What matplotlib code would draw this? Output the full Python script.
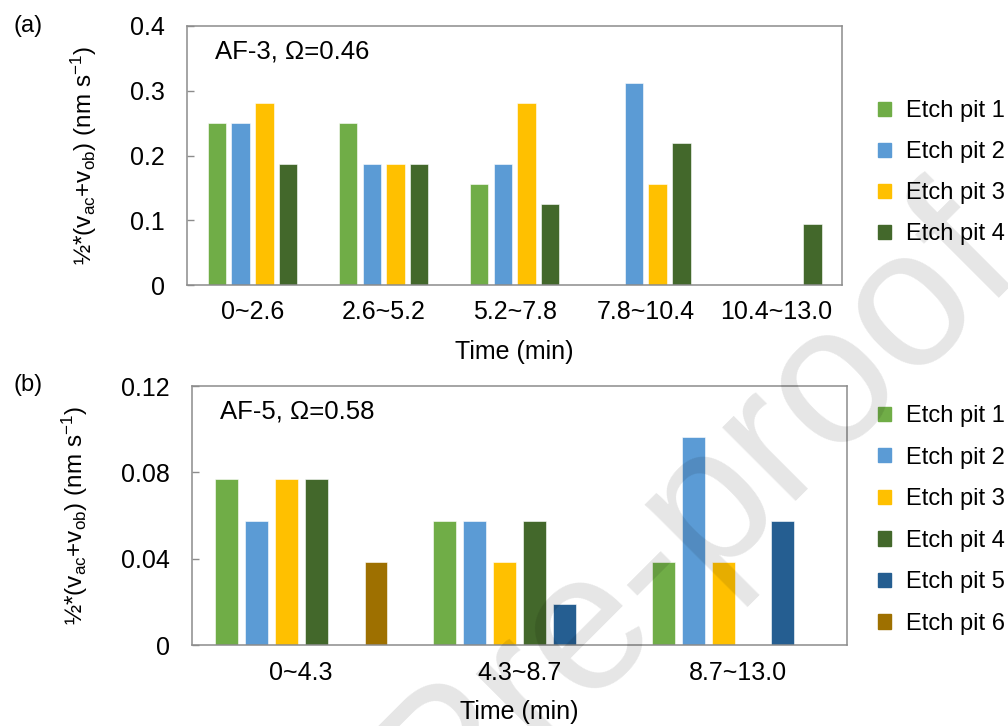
import numpy as np
import matplotlib
matplotlib.use('Agg')
import matplotlib.pyplot as plt
from matplotlib.patches import Patch

plt.rcParams['font.family'] = ['Liberation Sans', 'DejaVu Sans']
plt.rcParams['mathtext.fontset'] = 'custom'
plt.rcParams['mathtext.rm'] = 'Liberation Sans'
plt.rcParams['mathtext.it'] = 'Liberation Sans:italic'

# panel (a): AF-3
cats_a = ['0~2.6', '2.6~5.2', '5.2~7.8', '7.8~10.4', '10.4~13.0']
pit1_a = [0.25, 0.25, 0.15625, 0, 0]
pit2_a = [0.25, 0.1875, 0.1875, 0.3125, 0]
pit3_a = [0.28125, 0.1875, 0.28125, 0.15625, 0]
pit4_a = [0.1875, 0.1875, 0.125, 0.21875, 0.09375]

# panel (b): AF-5
cats_b = ['0~4.3', '4.3~8.7', '8.7~13.0']
pit1_b = [0.0769, 0.0577, 0.0385]
pit2_b = [0.0577, 0.0577, 0.0962]
pit3_b = [0.0769, 0.0385, 0.0385]
pit4_b = [0.0769, 0.0577, 0]
pit5_b = [0, 0.0192, 0.0577]
pit6_b = [0.0385, 0, 0]

labels = ['Etch pit 1', 'Etch pit 2', 'Etch pit 3', 'Etch pit 4', 'Etch pit 5', 'Etch pit 6']
colors = ['#70AD47', '#5B9BD5', '#FFC000', '#43682B', '#255E91', '#9E7000']

ylab = r'½*(v$_{\mathrm{ac}}$+v$_{\mathrm{ob}}$) (nm s$^{-1}$)'
grey = '#8c8c8c'


def bar_panel(ax, cats, series, width, step, ymax, yticks, yticklabels, note):
    x = np.arange(len(cats))
    n = len(series)
    for j, vals in enumerate(series):
        vals = np.array(vals)
        keep = vals > 0
        ax.bar(x[keep] + (j - (n - 1) / 2) * step, vals[keep], width=width,
               color=colors[j], edgecolor='white', linewidth=0.4, zorder=2)
    ax.set_xlim(-0.5, len(cats) - 0.5)
    ax.set_ylim(0, ymax)
    ax.set_xticks(x)
    ax.set_xticklabels(cats, fontsize=18)
    ax.set_yticks(yticks)
    ax.set_yticklabels(yticklabels, fontsize=18)
    ax.tick_params(axis='x', length=0, pad=11)
    ax.tick_params(axis='y', direction='in', length=5, width=1, color=grey, pad=16)
    for s in ax.spines.values():
        s.set_color(grey)
        s.set_linewidth(1.1)
    ax.set_xlabel('Time (min)', fontsize=18, labelpad=11)
    ax.set_ylabel(ylab, fontsize=17.5, labelpad=22)
    ax.text(0.043, 0.9, note, transform=ax.transAxes, fontsize=18.5, va='center')


fig = plt.figure(figsize=(10.08, 7.26), dpi=100)

ax1 = fig.add_axes([0.1855, 0.6074, 0.6500, 0.3568])
bar_panel(ax1, cats_a, [pit1_a, pit2_a, pit3_a, pit4_a], 0.139, 0.182, 0.4,
          [0, 0.1, 0.2, 0.3, 0.4], ['0', '0.1', '0.2', '0.3', '0.4'], 'AF-3, Ω=0.46')
h1 = [Patch(color=colors[k], label=labels[k]) for k in range(4)]
fig.legend(handles=h1, loc='center left', bbox_to_anchor=(0.871, 0.762), frameon=False,
           fontsize=17, handlelength=0.55, handleheight=0.55, handletextpad=0.65,
           labelspacing=0.8, borderpad=0, borderaxespad=0)

ax2 = fig.add_axes([0.1905, 0.1112, 0.6500, 0.3571])
bar_panel(ax2, cats_b, [pit1_b, pit2_b, pit3_b, pit4_b, pit5_b, pit6_b], 0.105, 0.137, 0.12,
          [0, 0.04, 0.08, 0.12], ['0', '0.04', '0.08', '0.12'], 'AF-5, Ω=0.58')
h2 = [Patch(color=colors[k], label=labels[k]) for k in range(6)]
fig.legend(handles=h2, loc='center left', bbox_to_anchor=(0.871, 0.2838), frameon=False,
           fontsize=17, handlelength=0.55, handleheight=0.55, handletextpad=0.65,
           labelspacing=0.83, borderpad=0, borderaxespad=0)

fig.text(0.013, 0.98, '(a)', fontsize=17, va='top')
fig.text(0.013, 0.485, '(b)', fontsize=17, va='top')

# watermark
fig.text(0.6916, 0.2948, 'Pre-proof', fontsize=141, color='black', alpha=0.1,
         rotation=45, rotation_mode='anchor', ha='center', va='center', zorder=10)

fig.savefig('out.png', dpi=100)
